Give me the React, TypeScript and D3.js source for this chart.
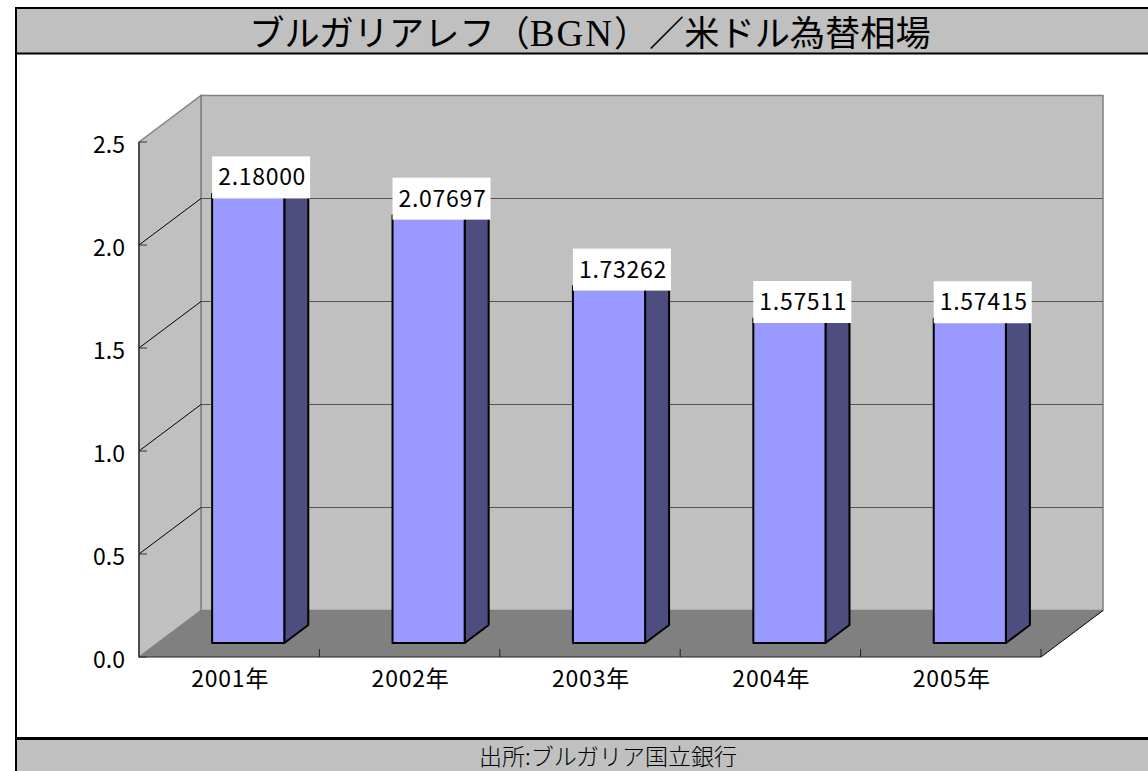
import React from 'react'
import * as d3 from 'd3'

const years = ['2001年', '2002年', '2003年', '2004年', '2005年']
const rates = [2.18, 2.07697, 1.73262, 1.57511, 1.57415]
const rateLabels = ['2.18000', '2.07697', '1.73262', '1.57511', '1.57415']
const yTicks = [0, 0.5, 1, 1.5, 2, 2.5]

const titleHead = 'ブルガリアレフ\uFF08'
const titleLatin = 'BGN'
const titleTail = '\uFF09\uFF0F米ドル為替相場'
const sourceText = '出所:ブルガリア国立銀行'

const width = 1148
const height = 771

// front plane of the 3d box, and how far the back wall is pushed
const plotLeft = 139
const plotRight = 1041
const plotBottom = 657
const plotTop = 142
const depthX = 62
const depthY = -46.5

// bars stand in the middle of the floor
const barDepthX = 24
const barDepthY = -18
const barShiftX = 19
const barShiftY = -14

const cjk = '"Noto Sans CJK JP", sans-serif'
const serif = '"Liberation Serif", serif'

export default function App() {
  const x = d3.scaleBand<string>().domain(years).range([plotLeft, plotRight])
  const y = d3.scaleLinear().domain([0, 2.5]).range([plotBottom, plotTop])
  const barWidth = x.bandwidth() * 0.4

  const backLeft = plotLeft + depthX
  const backRight = plotRight + depthX
  const backTop = plotTop + depthY
  const backBottom = plotBottom + depthY
  const line = d3.line()

  const xTickPos = [...years.map(d => x(d) as number), plotRight]

  return (
    <svg width={width} height={height} style={{ position: 'absolute', left: 0, top: 0, display: 'block', background: '#fff' }}>
      {/* title and footer bands */}
      <rect x={16} y={8} width={width} height={45.5} fill="#c0c0c0" />
      <rect x={16} y={738} width={width} height={40} fill="#c0c0c0" />
      <line x1={15} x2={width} y1={8} y2={8} stroke="#000" strokeWidth={2} />
      <line x1={15} x2={width} y1={53.5} y2={53.5} stroke="#000" strokeWidth={2} />
      <line x1={15} x2={width} y1={738.5} y2={738.5} stroke="#000" strokeWidth={3} />
      <line x1={16} x2={16} y1={7} y2={height} stroke="#000" strokeWidth={2} />
      <text x={590} y={46} textAnchor="middle" fontFamily={cjk} fontSize={35.2} fill="#000">
        {titleHead}
        <tspan fontFamily={serif} fontSize={37} letterSpacing={2}>{titleLatin}</tspan>
        {titleTail}
      </text>
      <text x={608} y={765} textAnchor="middle" fontFamily={cjk} fontWeight={300} fontSize={23} fill="#000">
        {sourceText}
      </text>

      {/* walls and floor */}
      <path
        d={line([[backLeft, backTop], [backRight, backTop], [backRight, backBottom], [backLeft, backBottom]] as [number, number][]) + 'Z'}
        fill="#c0c0c0"
        stroke="#808080"
        strokeWidth={1.5}
      />
      <path
        d={line([[plotLeft, plotTop], [backLeft, backTop], [backLeft, backBottom], [plotLeft, plotBottom]] as [number, number][]) + 'Z'}
        fill="#c0c0c0"
        stroke="#808080"
        strokeWidth={1.5}
      />
      <path
        d={line([[plotLeft, plotBottom], [backLeft, backBottom], [backRight, backBottom], [plotRight, plotBottom]] as [number, number][]) + 'Z'}
        fill="#808080"
      />

      {/* grid on the walls */}
      {yTicks.filter(t => t > 0 && t < 2.5).map(t => (
        <g key={t}>
          <line x1={plotLeft} y1={y(t)} x2={backLeft} y2={y(t) + depthY} stroke="#000" strokeWidth={1} />
          <line x1={backLeft} y1={y(t) + depthY} x2={backRight} y2={y(t) + depthY} stroke="#555" strokeWidth={1.2} />
        </g>
      ))}

      {/* axes */}
      <line x1={plotLeft} x2={plotLeft} y1={plotTop} y2={plotBottom} stroke="#000" strokeWidth={1} />
      <line x1={plotLeft} x2={plotRight} y1={plotBottom} y2={plotBottom} stroke="#222" strokeWidth={1.2} />
      <line x1={plotRight} y1={plotBottom} x2={backRight} y2={backBottom} stroke="#000" strokeWidth={1} />
      {yTicks.map(t => (
        <g key={t}>
          <line x1={plotLeft} x2={plotLeft + 8} y1={y(t)} y2={y(t)} stroke="#333" strokeWidth={1} />
          <text x={125} y={y(t) + 10.5} textAnchor="end" fontFamily={cjk} fontSize={23} fill="#000">
            {t.toFixed(1)}
          </text>
        </g>
      ))}
      {xTickPos.slice(1).map(p => (
        <line key={p} x1={p} x2={p} y1={plotBottom - 8} y2={plotBottom} stroke="#222" strokeWidth={1} />
      ))}
      {years.map(d => (
        <text key={d} x={(x(d) as number) + x.bandwidth() / 2 + 1} y={687} textAnchor="middle" fontFamily={cjk} fontSize={23} letterSpacing={0.8} fill="#000">
          {d}
        </text>
      ))}

      {/* bars */}
      {years.map((d, i) => {
        const left = (x(d) as number) + (x.bandwidth() - barWidth) / 2 + barShiftX
        const right = left + barWidth
        const bottom = plotBottom + barShiftY
        const top = bottom - (plotBottom - y(rates[i]))
        return (
          <g key={d} stroke="#000" strokeWidth={2} strokeLinejoin="round">
            <path
              d={line([[right, top], [right + barDepthX, top + barDepthY], [right + barDepthX, bottom + barDepthY], [right, bottom]] as [number, number][]) + 'Z'}
              fill="#4d4d80"
            />
            <rect x={left} y={top} width={barWidth} height={bottom - top} fill="#9999ff" />
          </g>
        )
      })}

      {/* value labels sit over the bar tops */}
      {years.map((d, i) => {
        const left = (x(d) as number) + (x.bandwidth() - barWidth) / 2 + barShiftX
        const top = plotBottom + barShiftY - (plotBottom - y(rates[i]))
        return (
          <g key={d}>
            <rect x={left} y={top - 37.5} width={98} height={42} fill="#fff" />
            <text x={left + 50} y={top - 8.5} textAnchor="middle" fontFamily={cjk} fontSize={23} letterSpacing={0.7} fill="#000">
              {rateLabels[i]}
            </text>
          </g>
        )
      })}
    </svg>
  )
}
